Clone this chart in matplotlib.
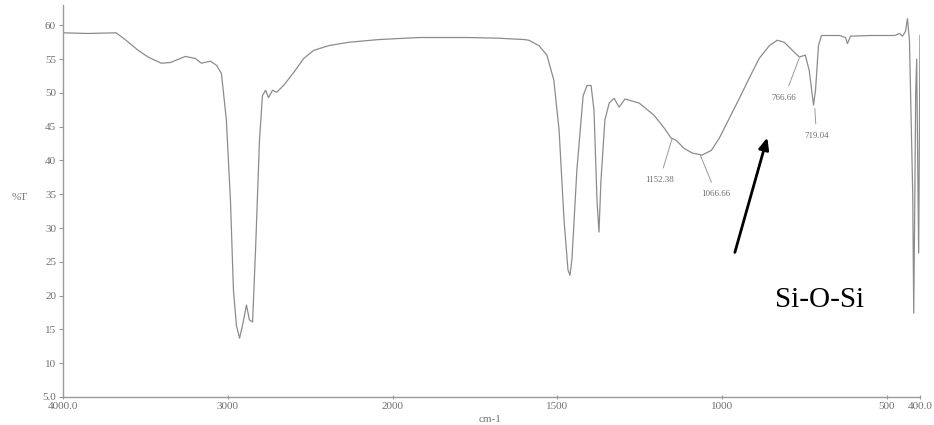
import numpy as np
import matplotlib
matplotlib.use("Agg")
import matplotlib.pyplot as plt

# FTIR spectrum (wavenumber cm-1, %T)
wavenumber = [4000, 3850, 3678, 3623, 3544, 3483, 3404, 3349, 3258, 3197, 3161, 3106, 3069,
              3039, 3009, 2984, 2966, 2948, 2929, 2911, 2887, 2869, 2850, 2832, 2808, 2790,
              2771, 2753, 2729, 2704, 2662, 2601, 2540, 2479, 2388, 2266, 2084, 1921, 1769,
              1678, 1600, 1587, 1556, 1532, 1511, 1495, 1480, 1468, 1462, 1456, 1441, 1422,
              1410, 1398, 1389, 1380, 1374, 1368, 1356, 1343, 1328, 1313, 1295, 1252, 1207,
              1176, 1155, 1140, 1116, 1091, 1061, 1033, 1009, 979, 948, 918, 888, 857, 833,
              812, 787, 766, 748, 736, 723, 717, 708, 699, 644, 626, 620, 611, 553, 477,
              462, 453, 444, 438, 432, 422, 419, 416, 413, 410, 407, 404, 401, 400]
transmittance = [58.9, 58.8, 58.9, 57.9, 56.3, 55.3, 54.4, 54.5, 55.4, 55.1, 54.4, 54.7, 54.1,
                 52.9, 46.0, 34.0, 20.8, 15.6, 13.7, 15.6, 18.6, 16.4, 16.1, 26.7, 43.0, 49.6,
                 50.4, 49.3, 50.4, 50.1, 51.1, 53.0, 55.1, 56.3, 57.0, 57.5, 57.9, 58.2, 58.2,
                 58.1, 57.9, 57.8, 57.0, 55.6, 51.9, 44.5, 31.2, 23.8, 23.0, 25.4, 38.6, 49.6,
                 51.1, 51.1, 47.4, 34.1, 29.4, 37.0, 46.0, 48.5, 49.2, 47.9, 49.1, 48.5, 46.7,
                 44.8, 43.3, 43.0, 41.8, 41.1, 40.8, 41.5, 43.3, 46.2, 49.2, 52.2, 55.1, 57.0, 57.8,
                 57.5, 56.3, 55.3, 55.6, 53.3, 48.2, 50.4, 57.0, 58.5, 58.5, 58.2, 57.3, 58.4, 58.5, 58.5,
                 58.8, 58.4, 59.1, 61.0, 57.8, 35.0, 17.4, 33.0, 50.0, 55.0, 40.0, 26.3, 50.0, 58.5]

peak_labels = ["1152.38", "1066.66", "766.66", "719.04"]
peak_pos = [1152.38, 1066.66, 766.66, 719.04]
peak_T = [43.2, 40.8, 55.1, 47.7]
label_pos = [(1190, 37.1), (1018, 35.0), (812, 49.3), (714, 43.6)]

x_ticks = [4000, 3000, 2000, 1500, 1000, 500, 400]
x_tick_labels = ["4000.0", "3000", "2000", "1500", "1000", "500", "400.0"]
y_ticks = [5, 10, 15, 20, 25, 30, 35, 40, 45, 50, 55, 60]
y_tick_labels = ["5.0"] + [str(v) for v in y_ticks[1:]]


# instrument x-axis: scale doubles below 2000 cm-1
def fwd(w):
    w = np.asarray(w, dtype=float)
    return np.where(w >= 2000, w, 2 * w - 2000)


def inv(u):
    u = np.asarray(u, dtype=float)
    return np.where(u >= 2000, u, (u + 2000) / 2)


serif = "Liberation Serif"
grey = "#707070"

fig = plt.figure(figsize=(9.34, 4.25), dpi=100)
ax = fig.add_axes([0.0675, 0.066, 0.9175, 0.922])
ax.set_xscale("function", functions=(fwd, inv))
ax.plot(wavenumber, transmittance, color="#8c8c8c", lw=0.9)
ax.set_xlim(4000, 400)
ax.set_ylim(5, 63)

for s in ["top", "right"]:
    ax.spines[s].set_visible(False)
for s in ["left", "bottom"]:
    ax.spines[s].set_color("#9a9a9a")
    ax.spines[s].set_linewidth(1.0)

ax.set_xticks(x_ticks)
ax.set_xticklabels(x_tick_labels, fontfamily=serif, fontsize=8, color=grey)
ax.set_yticks(y_ticks)
ax.set_yticklabels(y_tick_labels, fontfamily=serif, fontsize=8, color=grey)
ax.minorticks_off()
ax.tick_params(axis="y", direction="out", length=3, width=0.8, color="#9a9a9a", pad=2)
ax.tick_params(axis="x", direction="inout", length=3, width=0.8, color="#9a9a9a", pad=2)

fig.text(20 / 934, 1 - 197 / 425, "%T", fontfamily=serif, fontsize=8, color=grey,
         ha="center", va="center")
fig.text(490 / 934, 1 - 419 / 425, "cm-1", fontfamily=serif, fontsize=8, color=grey,
         ha="center", va="center")

for lab, px, pt, lp in zip(peak_labels, peak_pos, peak_T, label_pos):
    ax.annotate(lab, xy=(px, pt), xytext=lp, fontfamily=serif, fontsize=6.5, color=grey,
                ha="center", va="center",
                arrowprops=dict(arrowstyle="-", color="#9a9a9a", lw=0.7, shrinkA=4, shrinkB=0))

ax.annotate("", xy=(861, 43.8), xytext=(964, 26.0),
            arrowprops=dict(arrowstyle="-|>,head_length=0.7,head_width=0.3",
                            color="black", lw=2))
ax.text(839, 19.3, "Si-O-Si", fontfamily=serif, fontsize=21, color="black",
        ha="left", va="center")

fig.savefig("out.png", dpi=100)
